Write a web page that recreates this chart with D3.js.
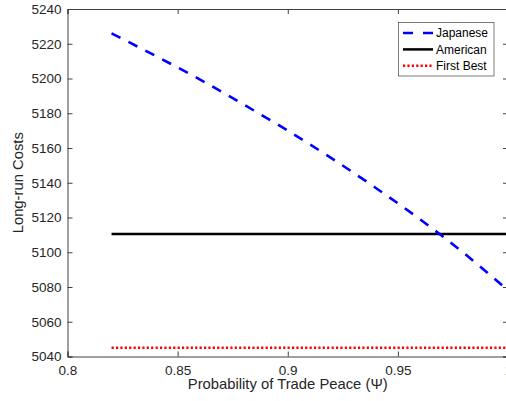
<!DOCTYPE html>
<html><head><meta charset="utf-8">
<script src="https://cdn.jsdelivr.net/npm/d3@7"></script>
<style>body{margin:0;background:#fff;} svg{display:block;font-family:"Liberation Sans",Arial,sans-serif;}</style>
</head><body>
<script>
const psi = [0.82,0.84,0.86,0.88,0.90,0.92,0.94,0.96,0.98,1.00];
const japanese = [5226,5213,5199.5,5185,5170,5154,5137,5119,5099.5,5078];
const american = [5110.5,5110.5,5110.5,5110.5,5110.5,5110.5,5110.5,5110.5,5110.5,5110.5];
const firstBest = [5045,5045,5045,5045,5045,5045,5045,5045,5045,5045];
const xTicks = [0.8,0.85,0.9,0.95,1];
const yTicks = [5040,5060,5080,5100,5120,5140,5160,5180,5200,5220,5240];
const seriesNames = ["Japanese","American","First Best"];

const W=506,H=401;
const L=67.5,R=508,T=9,B=356.5;
const svg=d3.select("body").append("svg").attr("width",W).attr("height",H);
const x=d3.scaleLinear().domain([0.8,1]).range([L,R]);
const y=d3.scaleLinear().domain([5040,5240]).range([B,T]);
const axCol="#404040";

const fmt=d=>d3.format("")(+d.toFixed(2));
const gx=svg.append("g").attr("transform",`translate(0,${B})`)
 .call(d3.axisBottom(x).tickValues(xTicks).tickSize(-5).tickPadding(9).tickFormat(fmt));
const gy=svg.append("g").attr("transform",`translate(${L},0)`)
 .call(d3.axisLeft(y).tickValues(yTicks).tickSize(-5).tickPadding(6).tickFormat(d3.format("d")));
const gt=svg.append("g").attr("transform",`translate(0,${T})`)
 .call(d3.axisTop(x).tickValues(xTicks).tickSize(-5).tickFormat(""));
const gr=svg.append("g").attr("transform",`translate(${R},0)`)
 .call(d3.axisRight(y).tickValues(yTicks).tickSize(-5).tickFormat(""));
[gx,gy,gt,gr].forEach(g=>{
  g.attr("font-size",null).attr("font-family",null);
  g.selectAll("path").attr("stroke",axCol).attr("stroke-width",1);
  g.selectAll("line").attr("stroke",axCol).attr("stroke-width",1);
  g.selectAll("text").attr("fill","#262626").style("font-size","13.5px");
});
gx.selectAll("text").attr("dy","0.71em");

const line=d3.line().x((d,i)=>x(psi[i])).y(d=>y(d));
svg.append("path").datum(firstBest).attr("d",line).attr("fill","none")
  .attr("stroke","#ff0000").attr("stroke-width",2.5).attr("stroke-dasharray","2.2,2.2");
svg.append("path").datum(american).attr("d",line).attr("fill","none")
  .attr("stroke","#000").attr("stroke-width",2.6);
svg.append("path").datum(japanese).attr("d",d3.line().x((d,i)=>x(psi[i])).y(d=>y(d)).curve(d3.curveMonotoneX)).attr("fill","none")
  .attr("stroke","#0000ff").attr("stroke-width",2.6).attr("stroke-dasharray","10,9");

svg.append("text").attr("x",(L+R)/2).attr("y",389).attr("text-anchor","middle")
  .style("font-size","14.8px").attr("fill","#262626").text("Probability of Trade Peace (Ψ)");
svg.append("text").attr("transform",`translate(23,${(T+B)/2}) rotate(-90)`).attr("text-anchor","middle")
  .style("font-size","14.8px").attr("fill","#262626").text("Long-run Costs");

// legend
const lg=svg.append("g");
lg.append("rect").attr("x",398.5).attr("y",22.5).attr("width",95.5).attr("height",53.5)
  .attr("fill","#fff").attr("stroke","#262626").attr("stroke-width",0.6);
const styles=[{c:"#0000ff",d:"10,10"},{c:"#000",d:null},{c:"#ff0000",d:"2.2,2.2"}];
seriesNames.forEach((n,i)=>{
  const yy=33+i*16.4;
  const ln=lg.append("line").attr("x1",403).attr("x2",433).attr("y1",yy).attr("y2",yy)
    .attr("stroke",styles[i].c).attr("stroke-width",2.5);
  if(styles[i].d) ln.attr("stroke-dasharray",styles[i].d);
  lg.append("text").attr("x",436).attr("y",yy).attr("dy","0.35em").style("font-size","12px")
    .attr("fill","#000").text(n);
});
</script>
</body></html>
